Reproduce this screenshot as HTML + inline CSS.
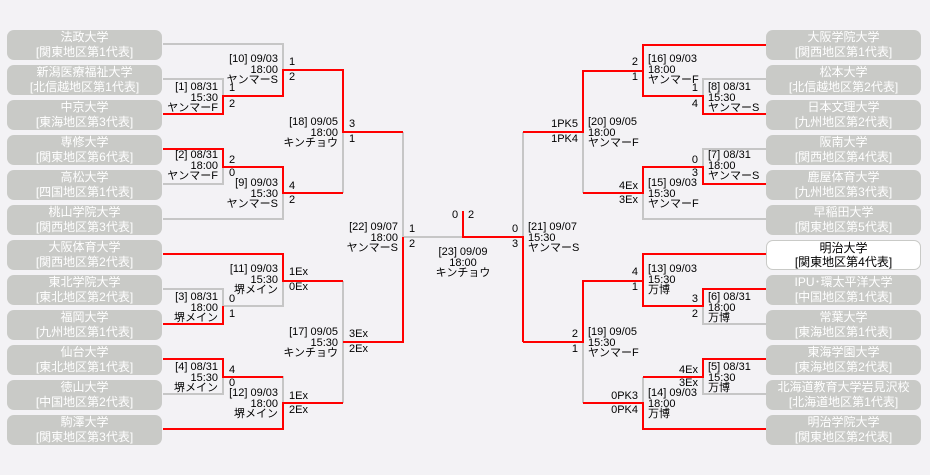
<!DOCTYPE html>
<html><head><meta charset="utf-8"><style>
body{margin:0;background:#f3f2f5;}
#w{position:relative;width:930px;height:475px;overflow:hidden;background:#f3f2f5;font-family:"Liberation Sans","Noto Sans CJK JP",sans-serif;}
.b{position:absolute;width:155px;height:30px;background:#c9cac7;border-radius:7px;color:#fff;font-size:12px;text-align:center;line-height:15px;}
.b.m{background:#fff;color:#000;border:1px solid #c9cac7;width:153px;height:28px;line-height:14px;}
.t{position:absolute;font-size:11px;line-height:10.5px;color:#000;white-space:nowrap;}
.r{text-align:right;}
svg{position:absolute;left:0;top:0;}
</style></head><body><div id="w">
<svg width="930" height="475" fill="none" stroke-width="2">
<g stroke="#c6c6c6">
<path d="M163 44H283V96"/><path d="M163 79H223V114"/><path d="M163 184H223V149"/><path d="M163 219H283V167"/>
<path d="M283 70V96M343 70V193"/><path d="M403 132V237H463"/>
<path d="M163 289H223V306H283V281"/><path d="M223 377H283V403"/><path d="M163 394H223V377"/><path d="M343 281V403"/>
<path d="M766 79H703V96"/><path d="M766 149H703V167"/><path d="M766 219H643V193"/><path d="M583 71V193"/><path d="M523 132V237"/>
<path d="M766 324H703V306"/><path d="M643 306V254"/><path d="M766 394H703V377"/><path d="M643 377V403"/><path d="M583 281V403"/>
</g>
<g stroke="#f00">
<path d="M163 114H223V96H283V70H343V132H403"/>
<path d="M163 149H223V167H283V193H343"/>
<path d="M163 254H283V281H343"/><path d="M163 324H223V306"/>
<path d="M163 359H223V377H283"/><path d="M163 429H283V403H343"/>
<path d="M343 342H403V237"/><path d="M463 211V237H523V342"/>
<path d="M766 45H643V96H703V114H766"/><path d="M643 71H583V132H523"/>
<path d="M766 184H703V167H643V193H583"/>
<path d="M766 254H643V306H703V289H766"/><path d="M643 281H583V342H523"/>
<path d="M766 359H703V377H643"/><path d="M766 429H643V403H583"/>
</g>
</svg>

<div class="b" style="left:7px;top:30px">法政大学<br>[関東地区第1代表]</div>
<div class="b" style="left:7px;top:65px">新潟医療福祉大学<br>[北信越地区第1代表]</div>
<div class="b" style="left:7px;top:100px">中京大学<br>[東海地区第3代表]</div>
<div class="b" style="left:7px;top:135px">専修大学<br>[関東地区第6代表]</div>
<div class="b" style="left:7px;top:170px">高松大学<br>[四国地区第1代表]</div>
<div class="b" style="left:7px;top:205px">桃山学院大学<br>[関西地区第3代表]</div>
<div class="b" style="left:7px;top:240px">大阪体育大学<br>[関西地区第2代表]</div>
<div class="b" style="left:7px;top:275px">東北学院大学<br>[東北地区第2代表]</div>
<div class="b" style="left:7px;top:310px">福岡大学<br>[九州地区第1代表]</div>
<div class="b" style="left:7px;top:345px">仙台大学<br>[東北地区第1代表]</div>
<div class="b" style="left:7px;top:380px">徳山大学<br>[中国地区第2代表]</div>
<div class="b" style="left:7px;top:415px">駒澤大学<br>[関東地区第3代表]</div>

<div class="b" style="left:766px;top:30px">大阪学院大学<br>[関西地区第1代表]</div>
<div class="b" style="left:766px;top:65px">松本大学<br>[北信越地区第2代表]</div>
<div class="b" style="left:766px;top:100px">日本文理大学<br>[九州地区第2代表]</div>
<div class="b" style="left:766px;top:135px">阪南大学<br>[関西地区第4代表]</div>
<div class="b" style="left:766px;top:170px">鹿屋体育大学<br>[九州地区第3代表]</div>
<div class="b" style="left:766px;top:205px">早稲田大学<br>[関東地区第5代表]</div>
<div class="b m" style="left:766px;top:240px">明治大学<br>[関東地区第4代表]</div>
<div class="b" style="left:766px;top:275px">IPU･環太平洋大学<br>[中国地区第1代表]</div>
<div class="b" style="left:766px;top:310px">常葉大学<br>[東海地区第1代表]</div>
<div class="b" style="left:766px;top:345px">東海学園大学<br>[東海地区第2代表]</div>
<div class="b" style="left:766px;top:380px">北海道教育大学岩見沢校<br>[北海道地区第1代表]</div>
<div class="b" style="left:766px;top:415px">明治学院大学<br>[関東地区第2代表]</div>

<div class="t r" style="right:652px;top:54px">[10] 09/03<br>18:00<br>ヤンマーS</div>
<div class="t r" style="right:712px;top:82px">[1] 08/31<br>15:30<br>ヤンマーF</div>
<div class="t r" style="right:592px;top:117px">[18] 09/05<br>18:00<br>キンチョウ</div>
<div class="t r" style="right:712px;top:150px">[2] 08/31<br>18:00<br>ヤンマーF</div>
<div class="t r" style="right:652px;top:178px">[9] 09/03<br>15:30<br>ヤンマーS</div>
<div class="t r" style="right:532px;top:222px">[22] 09/07<br>18:00<br>ヤンマーS</div>
<div class="t r" style="right:652px;top:264px">[11] 09/03<br>15:30<br>堺メイン</div>
<div class="t r" style="right:712px;top:292px">[3] 08/31<br>18:00<br>堺メイン</div>
<div class="t r" style="right:592px;top:327px">[17] 09/05<br>15:30<br>キンチョウ</div>
<div class="t r" style="right:712px;top:362px">[4] 08/31<br>15:30<br>堺メイン</div>
<div class="t r" style="right:652px;top:388px">[12] 09/03<br>18:00<br>堺メイン</div>
<div class="t" style="left:289px;top:57px">1</div><div class="t" style="left:289px;top:72px">2</div>
<div class="t" style="left:229px;top:83px">1</div><div class="t" style="left:229px;top:99px">2</div>
<div class="t" style="left:349px;top:119px">3</div><div class="t" style="left:349px;top:134px">1</div>
<div class="t" style="left:229px;top:155px">2</div><div class="t" style="left:229px;top:168px">0</div>
<div class="t" style="left:289px;top:181px">4</div><div class="t" style="left:289px;top:195px">2</div>
<div class="t" style="left:409px;top:224px">1</div><div class="t" style="left:409px;top:239px">2</div>
<div class="t" style="left:289px;top:267px">1Ex</div><div class="t" style="left:289px;top:282px">0Ex</div>
<div class="t" style="left:229px;top:294px">0</div><div class="t" style="left:229px;top:309px">1</div>
<div class="t" style="left:349px;top:329px">3Ex</div><div class="t" style="left:349px;top:344px">2Ex</div>
<div class="t" style="left:229px;top:365px">4</div><div class="t" style="left:229px;top:378px">0</div>
<div class="t" style="left:289px;top:391px">1Ex</div><div class="t" style="left:289px;top:405px">2Ex</div>
<div class="t" style="left:452px;top:210px">0</div><div class="t" style="left:468px;top:210px">2</div>
<div class="t" style="left:512px;top:224px">0</div><div class="t" style="left:512px;top:239px">3</div>
<div class="t" style="left:423px;top:247px;width:80px;text-align:center">[23] 09/09<br>18:00<br>キンチョウ</div>
<div class="t" style="left:528px;top:222px">[21] 09/07<br>15:30<br>ヤンマーS</div>
<div class="t" style="left:648px;top:54px">[16] 09/03<br>18:00<br>ヤンマーF</div>
<div class="t" style="left:708px;top:82px">[8] 08/31<br>15:30<br>ヤンマーS</div>
<div class="t" style="left:588px;top:117px">[20] 09/05<br>18:00<br>ヤンマーF</div>
<div class="t" style="left:708px;top:150px">[7] 08/31<br>18:00<br>ヤンマーS</div>
<div class="t" style="left:648px;top:178px">[15] 09/03<br>15:30<br>ヤンマーF</div>
<div class="t" style="left:648px;top:264px">[13] 09/03<br>15:30<br>万博</div>
<div class="t" style="left:708px;top:292px">[6] 08/31<br>18:00<br>万博</div>
<div class="t" style="left:588px;top:327px">[19] 09/05<br>15:30<br>ヤンマーF</div>
<div class="t" style="left:708px;top:362px">[5] 08/31<br>15:30<br>万博</div>
<div class="t" style="left:648px;top:388px">[14] 09/03<br>18:00<br>万博</div>
<div class="t r" style="right:292px;top:57px">2</div><div class="t r" style="right:292px;top:72px">1</div>
<div class="t r" style="right:232px;top:83px">1</div><div class="t r" style="right:232px;top:99px">4</div>
<div class="t r" style="right:352px;top:119px">1PK5</div><div class="t r" style="right:352px;top:134px">1PK4</div>
<div class="t r" style="right:232px;top:155px">0</div><div class="t r" style="right:232px;top:168px">3</div>
<div class="t r" style="right:292px;top:181px">4Ex</div><div class="t r" style="right:292px;top:195px">3Ex</div>
<div class="t r" style="right:292px;top:267px">4</div><div class="t r" style="right:292px;top:282px">1</div>
<div class="t r" style="right:232px;top:294px">3</div><div class="t r" style="right:232px;top:309px">2</div>
<div class="t r" style="right:352px;top:329px">2</div><div class="t r" style="right:352px;top:344px">1</div>
<div class="t r" style="right:232px;top:365px">4Ex</div><div class="t r" style="right:232px;top:378px">3Ex</div>
<div class="t r" style="right:292px;top:391px">0PK3</div><div class="t r" style="right:292px;top:405px">0PK4</div>
</div></body></html>
